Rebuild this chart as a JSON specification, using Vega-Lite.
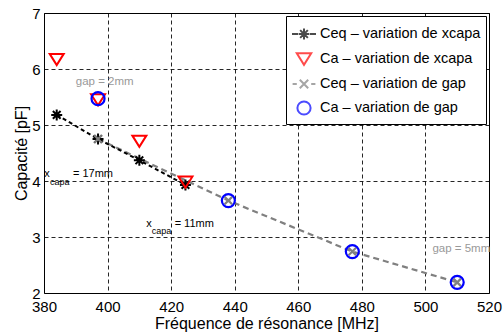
{
  "$schema": "https://vega.github.io/schema/vega-lite/v6.json",
  "width": 445,
  "height": 280,
  "autosize": {"type": "none"},
  "padding": {"left": 44, "top": 13, "right": 15, "bottom": 39},
  "background": "white",
  "config": {
    "font": "Liberation Sans",
    "view": {"stroke": "black", "strokeWidth": 1},
    "axis": {
      "domain": false,
      "ticks": false,
      "grid": true,
      "gridColor": "black",
      "gridDash": [4, 3],
      "gridWidth": 1,
      "gridOpacity": 0.85,
      "labelFont": "Liberation Sans",
      "labelFontSize": 15,
      "labelColor": "black",
      "titleFont": "Liberation Sans",
      "titleFontSize": 16,
      "titleFontWeight": "normal",
      "titleColor": "black"
    }
  },
  "datasets": {
    "series": [
      {"series": "Ceq_x", "f": 384, "c": 5.18},
      {"series": "Ceq_x", "f": 397, "c": 4.75},
      {"series": "Ceq_x", "f": 410, "c": 4.37},
      {"series": "Ceq_x", "f": 424.5, "c": 3.93},
      {"series": "Ca_x", "f": 384, "c": 6.17},
      {"series": "Ca_x", "f": 397, "c": 5.45},
      {"series": "Ca_x", "f": 410, "c": 4.71},
      {"series": "Ca_x", "f": 424.5, "c": 3.98},
      {"series": "Ceq_gap", "f": 397, "c": 4.75},
      {"series": "Ceq_gap", "f": 438, "c": 3.65},
      {"series": "Ceq_gap", "f": 477, "c": 2.74},
      {"series": "Ceq_gap", "f": 510, "c": 2.19},
      {"series": "Ca_gap", "f": 397, "c": 5.47},
      {"series": "Ca_gap", "f": 438, "c": 3.65},
      {"series": "Ca_gap", "f": 477, "c": 2.74},
      {"series": "Ca_gap", "f": 510, "c": 2.19}
    ],
    "notes": [
      {"kind": "gap", "f": 390, "c": 5.77, "label": "gap = 2mm"},
      {"kind": "gap", "f": 502.2, "c": 2.78, "label": "gap = 5mm"},
      {"kind": "main", "f": 380.1, "c": 4.12, "label": "x"},
      {"kind": "main", "f": 389.1, "c": 4.12, "label": "= 17mm"},
      {"kind": "sub", "f": 381.9, "c": 3.99, "label": "capa"},
      {"kind": "main", "f": 412.2, "c": 3.24, "label": "x"},
      {"kind": "main", "f": 421.1, "c": 3.24, "label": "= 11mm"},
      {"kind": "sub", "f": 413.9, "c": 3.1, "label": "capa"}
    ]
  },
  "encoding": {
    "x": {
      "field": "f", "type": "quantitative",
      "scale": {"domain": [380, 520], "nice": false, "zero": false},
      "axis": {"values": [380, 400, 420, 440, 460, 480, 500, 520], "labelFlush": false, "labelPadding": 6, "titlePadding": 1, "title": "Fréquence de résonance [MHz]"}
    },
    "y": {
      "field": "c", "type": "quantitative",
      "scale": {"domain": [2, 7], "nice": false, "zero": false},
      "axis": {"values": [2, 3, 4, 5, 6, 7], "labelPadding": 4, "titlePadding": 2, "title": "Capacité [pF]"}
    }
  },
  "layer": [
    {
      "data": {"name": "series"},
      "transform": [{"filter": "datum.series === 'Ceq_gap'"}],
      "mark": {"type": "line", "color": "#808080", "strokeWidth": 2.2, "strokeDash": [6, 4]}
    },
    {
      "data": {"name": "series"},
      "transform": [{"filter": "datum.series === 'Ceq_x'"}],
      "mark": {"type": "line", "color": "black", "strokeWidth": 2, "strokeDash": [4, 3]}
    },
    {
      "data": {"name": "series"},
      "transform": [{"filter": "datum.series === 'Ceq_x'"}],
      "mark": {"type": "point", "shape": "M-1,0L1,0M0,-1L0,1M-0.7,-0.7L0.7,0.7M-0.7,0.7L0.7,-0.7", "size": 121, "color": "black", "strokeWidth": 2, "filled": false, "opacity": 1}
    },
    {
      "data": {"name": "series"},
      "transform": [{"filter": "datum.series === 'Ca_x'"}],
      "mark": {"type": "point", "shape": "M-1,-0.8L1,-0.8L0,0.8Z", "size": 196, "color": "#ff0000", "strokeWidth": 2, "filled": false, "opacity": 1}
    },
    {
      "data": {"name": "series"},
      "transform": [{"filter": "datum.series === 'Ceq_gap'"}],
      "mark": {"type": "point", "shape": "M-1,-1L1,1M-1,1L1,-1", "size": 56, "color": "#808080", "strokeWidth": 2.2, "filled": false, "opacity": 1}
    },
    {
      "data": {"name": "series"},
      "transform": [{"filter": "datum.series === 'Ca_gap'"}],
      "mark": {"type": "point", "shape": "circle", "size": 169, "color": "#0000ff", "strokeWidth": 2.2, "filled": false, "opacity": 1}
    },
    {
      "data": {"name": "notes"},
      "transform": [{"filter": "datum.kind === 'gap'"}],
      "mark": {"type": "text", "align": "left", "baseline": "middle", "fontSize": 11.5, "color": "#999999"},
      "encoding": {"text": {"field": "label"}}
    },
    {
      "data": {"name": "notes"},
      "transform": [{"filter": "datum.kind === 'main'"}],
      "mark": {"type": "text", "align": "left", "baseline": "middle", "fontSize": 11, "color": "black"},
      "encoding": {"text": {"field": "label"}}
    },
    {
      "data": {"name": "notes"},
      "transform": [{"filter": "datum.kind === 'sub'"}],
      "mark": {"type": "text", "align": "left", "baseline": "middle", "fontSize": 9, "color": "black"},
      "encoding": {"text": {"field": "label"}}
    },
    {
      "data": {"name": "series"},
      "transform": [{"filter": "false"}],
      "mark": {"type": "point", "filled": false, "strokeWidth": 2},
      "encoding": {
        "color": {
          "field": "series", "type": "nominal",
          "scale": {"domain": ["Ceq_x", "Ca_x", "Ceq_gap", "Ca_gap"], "range": ["black", "#ff0000", "#808080", "#0000ff"]},
          "legend": {
            "title": null,
            "orient": "top-right",
            "offset": 3,
            "labelExpr": "datum.value === 'Ceq_x' ? 'Ceq – variation de xcapa' : datum.value === 'Ca_x' ? 'Ca – variation de xcapa' : datum.value === 'Ceq_gap' ? 'Ceq – variation de gap' : 'Ca – variation de gap'",
            "labelFontSize": 14.5,
            "labelColor": "black",
            "labelLimit": 300,
            "labelOffset": 3,
            "labelBaseline": "middle",
            "symbolSize": 576,
            "symbolStrokeWidth": 2,
            "rowPadding": 2,
            "padding": 5,
            "strokeColor": "black",
            "fillColor": "white",
            "cornerRadius": 0
          }
        },
        "shape": {
          "field": "series", "type": "nominal",
          "scale": {
            "domain": ["Ceq_x", "Ca_x", "Ceq_gap", "Ca_gap"],
            "range": [
              "M-1,0L-0.5,0M0.5,0L1,0M-0.45,0L0.45,0M0,-0.45L0,0.45M-0.32,-0.32L0.32,0.32M-0.32,0.32L0.32,-0.32",
              "M-0.6,-0.48L0.6,-0.48L0,0.48Z",
              "M-0.95,0L-0.6,0M0.6,0L0.95,0M-0.35,-0.35L0.35,0.35M-0.35,0.35L0.35,-0.35",
              "M0.55,0A0.55,0.55 0 1,1 -0.55,0A0.55,0.55 0 1,1 0.55,0Z"
            ]
          }
        }
      }
    }
  ]
}
